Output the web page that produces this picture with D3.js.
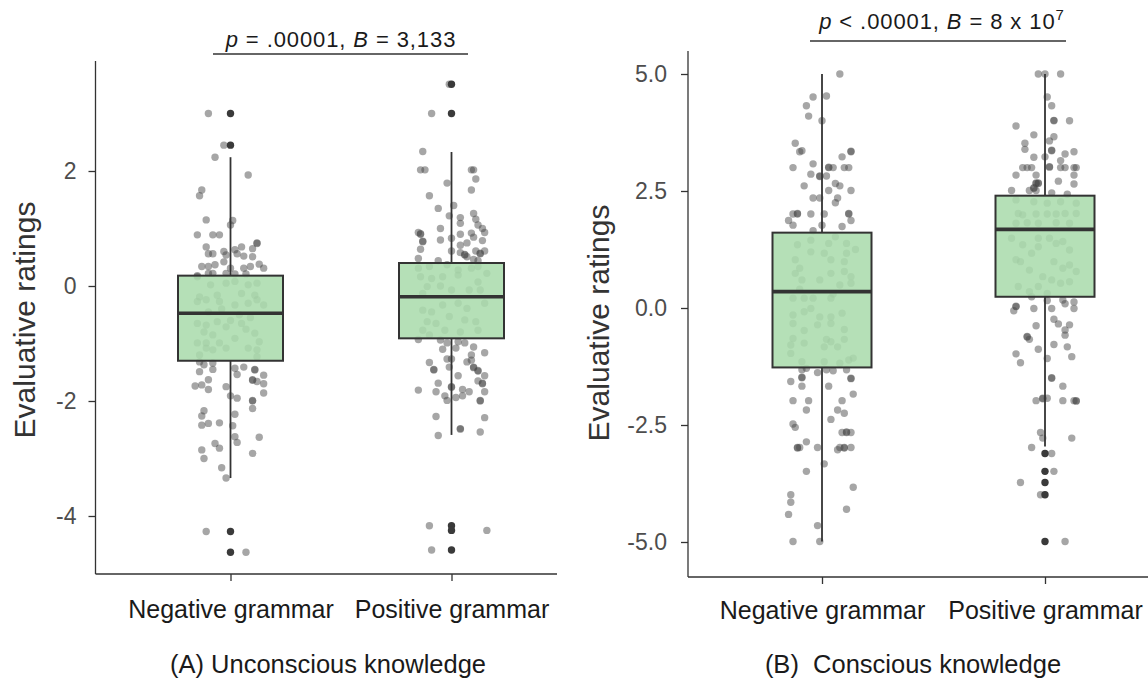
<!DOCTYPE html>
<html>
<head>
<meta charset="utf-8">
<script src="https://cdn.jsdelivr.net/npm/d3@7"></script>
<style>
  body { margin: 0; background: #fff; }
  svg { display: block; }
  text { font-family: Arial, "Liberation Sans", sans-serif; }
</style>
</head>
<body>
<div id="chart"></div>
<script>
// ---- data ----
const categories = ["Negative grammar", "Positive grammar"];
const captions = ["(A) Unconscious knowledge", "(B)  Conscious knowledge"];
const yTicksA = [-4, -2, 0, 2];
const yTicksB = [-5, -2.5, 0, 2.5, 5];

// box stats: whisker low, q1, median, q3, whisker high
const boxesA = [
  { lo: -3.34, q1: -1.30, med: -0.475, q3: 0.18, hi: 2.24 },
  { lo: -2.59, q1: -0.91, med: -0.186, q3: 0.40, hi: 2.33 }
];
const boxesB = [
  { lo: -4.99, q1: -1.27, med: 0.35, q3: 1.61, hi: 5.0 },
  { lo: -2.96, q1: 0.24, med: 1.68, q3: 2.40, hi: 5.0 }
];
const outliersA = [[3.0, 2.45, -4.27, -4.63], [3.51, 3.0, -4.17, -4.25, -4.59]];
const outliersB = [[], [-3.11, -3.49, -3.73, -3.99, -4.99]];

// jittered ratings: [jitter (category units), rating]
const ratingsANeg = [
  [-0.10, 3.0], [-0.03, 2.45], [-0.07, 2.24], [0.08, 1.93], [-0.13, 1.67], [-0.14, 1.57],
  [-0.11, 1.15], [0.01, 1.14], [0.00, 1.06], [-0.15, 0.89], [-0.08, 0.89], [-0.05, 0.89],
  [-0.11, 0.68], [0.05, 0.68], [0.10, 0.65], [0.12, 0.74], [0.12, 0.75], [-0.10, 0.56],
  [-0.08, 0.56], [-0.03, 0.60], [-0.02, 0.54], [0.02, 0.63], [0.03, 0.56], [0.06, 0.52],
  [0.10, 0.51], [-0.03, 0.42], [-0.13, 0.34], [-0.10, 0.34], [-0.07, 0.37], [0.00, 0.31],
  [0.06, 0.31], [0.09, 0.34], [0.13, 0.38], [0.15, 0.31], [-0.15, 0.18], [-0.10, 0.22],
  [-0.08, 0.22], [-0.02, 0.22], [0.02, 0.21], [0.07, 0.21],
  [-0.15, 0.16], [-0.09, 0.02], [-0.02, 0.05], [0.02, 0.08], [0.08, 0.02], [0.12, 0.05],
  [-0.06, -0.16], [-0.14, -0.19], [0.05, -0.13], [0.11, -0.16], [-0.15, -0.27], [-0.11, -0.24],
  [-0.05, -0.27], [0.02, -0.33], [0.08, -0.30], [0.12, -0.24], [0.15, -0.33], [-0.15, -0.65],
  [-0.11, -0.68], [-0.06, -0.62], [-0.02, -0.71], [0.02, -0.91], [0.05, -0.65], [0.11, -0.82],
  [0.13, -0.97], [-0.15, -0.99], [-0.11, -0.99], [-0.05, -0.99], [-0.02, -1.08], [-0.11, -1.08],
  [-0.08, -1.11], [0.08, -1.08], [0.12, -1.11], [-0.14, -1.20], [0.12, -1.23], [-0.10, -0.45],
  [0.04, -0.50], [0.09, -0.55], [-0.04, -0.40], [-0.12, -0.80], [0.00, -0.60], [0.07, -0.75],
  [-0.08, -0.85],
  [-0.14, -1.32], [-0.12, -1.37], [-0.08, -1.34], [-0.08, -1.45], [0.02, -1.43], [0.06, -1.41],
  [0.11, -1.45], [0.11, -1.46], [-0.14, -1.49], [0.03, -1.54], [0.15, -1.55], [-0.10, -1.63],
  [0.10, -1.63], [0.10, -1.64], [0.12, -1.66], [-0.16, -1.74], [-0.13, -1.72], [-0.10, -1.80],
  [-0.02, -1.75], [0.15, -1.70], [0.15, -1.86], [0.00, -1.91], [0.03, -1.95], [0.10, -1.99],
  [0.10, -2.00], [0.10, -2.13], [-0.12, -2.17], [-0.13, -2.26], [0.02, -2.23], [-0.13, -2.42],
  [-0.10, -2.39], [-0.05, -2.38], [0.01, -2.43], [0.02, -2.62], [0.03, -2.72], [0.13, -2.63],
  [-0.07, -2.74], [-0.05, -2.82], [-0.13, -2.85], [-0.12, -3.0], [0.10, -2.91], [-0.04, -3.16],
  [-0.02, -3.34], [-0.11, -4.27], [0.07, -4.63]
];
const ratingsAPos = [
  [-0.01, 3.51], [-0.09, 3.0], [-0.13, 2.34], [-0.14, 2.02], [-0.12, 2.02], [0.09, 2.02],
  [0.10, 2.02], [0.11, 1.86], [0.09, 1.67], [-0.02, 1.79], [-0.10, 1.57], [-0.06, 1.35],
  [0.01, 1.40], [-0.01, 1.22], [0.04, 1.19], [0.04, 1.09], [0.10, 1.26], [0.11, 1.16],
  [0.12, 1.06], [0.14, 1.00], [0.15, 0.93], [-0.05, 1.00], [-0.15, 0.93], [-0.14, 0.90],
  [-0.14, 0.91], [-0.13, 0.77], [-0.13, 0.78], [-0.05, 0.80], [0.00, 0.83], [0.04, 0.90],
  [0.09, 0.92], [0.10, 0.85], [0.07, 0.75], [0.14, 0.79], [0.04, 0.71], [-0.14, 0.64],
  [0.00, 0.61], [0.04, 0.58], [0.06, 0.54], [0.06, 0.55], [0.07, 0.51], [0.11, 0.61],
  [0.13, 0.56], [0.13, 0.57], [0.15, 0.61], [-0.15, 0.48], [-0.06, 0.44], [0.10, 0.46],
  [0.12, 0.44],
  [-0.15, 0.31], [-0.10, 0.34], [-0.02, 0.37], [0.03, 0.28], [0.09, 0.31], [0.12, 0.34],
  [-0.14, 0.16], [-0.09, 0.13], [-0.04, 0.16], [0.03, 0.19], [0.12, 0.07], [0.16, 0.22],
  [-0.11, -0.01], [-0.05, 0.0], [0.00, -0.07], [0.08, -0.07], [0.13, -0.07], [-0.13, -0.13],
  [0.15, -0.30], [-0.13, -0.42], [-0.09, -0.45], [-0.04, -0.33], [0.03, -0.30], [0.07, -0.39],
  [-0.11, -0.62], [-0.07, -0.65], [-0.01, -0.53], [0.06, -0.59], [0.11, -0.62], [-0.13, -0.77],
  [-0.03, -0.77], [0.04, -0.80], [0.12, -0.77], [-0.10, -0.85],
  [-0.15, -0.93], [-0.05, -0.94], [-0.02, -0.99], [0.03, -0.97], [0.06, -0.99], [-0.04, -1.10],
  [0.02, -1.08], [0.10, -1.06], [0.15, -1.16], [0.09, -1.20], [-0.02, -1.27], [0.00, -1.27],
  [-0.10, -1.33], [0.07, -1.32], [0.09, -1.29], [-0.08, -1.45], [-0.08, -1.46], [-0.01, -1.41],
  [0.10, -1.41], [0.10, -1.42], [0.12, -1.47], [0.12, -1.48], [0.03, -1.56], [0.15, -1.56],
  [0.12, -1.65], [0.14, -1.69], [0.14, -1.70], [-0.06, -1.69], [-0.15, -1.81], [-0.07, -1.84],
  [0.00, -1.75], [0.00, -1.76], [0.05, -1.80], [0.08, -1.84], [0.15, -1.84], [-0.03, -1.91],
  [-0.02, -1.99], [0.02, -1.94], [0.05, -1.91], [0.13, -1.99], [0.13, -2.00], [-0.07, -2.27],
  [0.15, -2.29], [0.04, -2.48], [0.04, -2.49], [-0.06, -2.60], [0.13, -2.54], [-0.10, -4.17],
  [0.16, -4.25], [-0.09, -4.59]
];
const ratingsBNeg = [
  [0.08, 5.0], [-0.04, 4.51], [0.02, 4.53], [-0.07, 4.32], [-0.06, 4.10], [0.00, 4.0],
  [-0.12, 3.52], [-0.10, 3.34], [-0.09, 3.36], [0.13, 3.34], [0.13, 3.35], [0.09, 3.23],
  [-0.13, 3.0], [-0.04, 3.08], [0.03, 3.0], [0.03, 3.01], [0.05, 3.0], [0.10, 3.0],
  [0.12, 3.0], [-0.05, 2.86], [-0.01, 2.81], [-0.01, 2.82], [0.02, 2.82], [-0.08, 2.61],
  [0.06, 2.66], [0.08, 2.61], [0.03, 2.51], [0.13, 2.51], [-0.04, 2.35], [-0.01, 2.35],
  [0.07, 2.35], [0.06, 2.25], [-0.13, 2.01], [-0.11, 2.01], [-0.11, 2.02], [-0.05, 2.01],
  [0.01, 2.01], [0.12, 2.01], [0.12, 2.02], [-0.15, 1.87], [-0.13, 1.77], [0.00, 1.77],
  [0.13, 1.87], [0.09, 1.74], [-0.04, 1.65],
  [-0.11, 1.35], [-0.05, 1.45], [0.03, 1.38], [0.06, 1.52], [0.11, 1.38], [0.15, 1.25],
  [-0.05, 1.20], [0.01, 1.17], [-0.12, 1.03], [-0.10, 0.85], [0.04, 1.03], [0.10, 0.99],
  [0.11, 1.17], [-0.12, 0.74], [-0.09, 0.60], [-0.01, 0.60], [0.04, 0.74], [0.10, 0.78],
  [0.13, 0.67], [0.13, 0.53], [0.08, 0.49], [-0.10, 0.40], [0.05, 0.30], [-0.13, 0.21],
  [-0.08, 0.21], [-0.04, 0.21], [0.04, 0.21], [-0.13, -0.15], [-0.08, -0.08], [-0.05, -0.01],
  [-0.01, -0.19], [0.04, -0.19], [0.09, -0.11], [-0.13, -0.33], [-0.02, -0.36], [0.04, -0.33],
  [0.10, -0.46], [-0.08, -0.48], [-0.13, -0.65], [-0.14, -0.79], [-0.08, -0.75], [0.02, -0.67],
  [0.04, -0.72], [0.07, -0.83], [0.01, -0.83], [0.10, -0.67], [-0.14, -0.97], [-0.09, -1.15],
  [0.01, -1.15], [0.08, -1.18], [0.12, -1.11], [0.14, -1.07],
  [-0.09, -1.32], [-0.07, -1.29], [-0.02, -1.38], [0.02, -1.32], [0.05, -1.34], [0.11, -1.32],
  [-0.09, -1.48], [-0.09, -1.49], [0.13, -1.50], [0.13, -1.51], [-0.14, -1.57], [-0.09, -1.67],
  [0.03, -1.67], [0.14, -1.84], [-0.13, -1.98], [-0.06, -1.98], [0.09, -1.98], [-0.07, -2.18],
  [0.07, -2.18], [0.10, -2.25], [0.04, -2.38], [-0.13, -2.48], [-0.12, -2.55], [0.09, -2.66],
  [0.11, -2.65], [0.11, -2.66], [0.13, -2.66], [-0.07, -2.86], [-0.11, -2.98], [-0.11, -2.99],
  [-0.10, -2.98], [-0.02, -2.98], [0.07, -3.03], [0.08, -2.98], [0.10, -2.98], [0.10, -2.99],
  [0.13, -2.98], [0.01, -3.33], [-0.07, -3.49], [0.14, -3.83], [-0.14, -3.99], [-0.14, -4.15],
  [-0.15, -4.41], [0.11, -4.30], [-0.02, -4.65], [-0.13, -4.99], [-0.01, -4.99]
];
const ratingsBPos = [
  [-0.03, 5.0], [0.00, 5.0], [0.07, 5.0], [0.01, 4.51], [0.03, 4.32], [0.04, 4.0],
  [0.04, 4.01], [0.11, 4.0], [-0.13, 3.89], [-0.05, 3.70], [0.04, 3.66], [0.02, 3.57],
  [-0.09, 3.52], [-0.09, 3.39], [0.03, 3.36], [0.03, 3.37], [0.09, 3.29], [0.13, 3.34],
  [-0.05, 3.22], [0.00, 3.23], [0.07, 3.15], [-0.10, 3.0], [-0.08, 3.0], [-0.06, 3.0],
  [0.02, 3.01], [0.02, 3.02], [0.07, 3.0], [0.09, 3.0], [0.13, 3.0], [0.14, 3.0],
  [-0.13, 2.84], [-0.04, 2.84], [0.13, 2.84], [0.06, 2.71], [-0.04, 2.66], [-0.04, 2.67],
  [-0.03, 2.66], [-0.03, 2.67], [0.13, 2.65], [-0.15, 2.51], [-0.07, 2.51], [-0.05, 2.56],
  [-0.05, 2.57], [-0.04, 2.51], [0.03, 2.46], [0.10, 2.43],
  [-0.13, 2.31], [-0.05, 2.27], [0.01, 2.24], [0.07, 2.27], [0.14, 2.24], [-0.12, 2.02],
  [-0.10, 1.99], [-0.04, 2.01], [0.01, 2.01], [0.05, 2.01], [0.09, 2.02], [0.14, 2.02],
  [-0.13, 1.81], [-0.08, 1.82], [-0.03, 1.81], [0.05, 1.82], [0.11, 1.81], [-0.15, 1.49],
  [-0.03, 1.49], [0.02, 1.49], [0.08, 1.42], [-0.10, 1.35], [-0.03, 1.31], [0.05, 1.38],
  [0.11, 1.24], [-0.13, 1.03], [-0.11, 0.99], [-0.06, 1.17], [0.04, 0.99], [-0.07, 0.81],
  [0.08, 0.85], [0.11, 0.92], [0.14, 0.78], [-0.01, 0.67], [0.03, 0.60], [0.07, 0.53],
  [-0.12, 0.46], [-0.03, 0.46], [0.11, 0.56], [-0.07, 0.35], [0.01, 0.31],
  [-0.06, 0.24], [0.01, 0.16], [0.08, 0.17], [0.09, 0.09], [0.13, 0.13], [-0.13, 0.03],
  [-0.13, 0.04], [-0.14, -0.06], [-0.05, -0.01], [0.03, -0.01], [0.13, -0.01], [0.04, -0.24],
  [0.06, -0.34], [0.11, -0.36], [-0.04, -0.38], [0.09, -0.47], [0.09, -0.58], [-0.08, -0.61],
  [-0.08, -0.62], [-0.07, -0.67], [0.04, -0.78], [0.10, -0.83], [-0.03, -0.88], [-0.13, -0.98],
  [0.01, -1.08], [0.12, -1.04], [-0.11, -1.17], [0.03, -1.49], [0.03, -1.50], [0.08, -1.67],
  [-0.04, -1.98], [-0.01, -1.93], [-0.01, -1.94], [0.01, -1.93], [0.08, -1.98], [0.13, -1.98],
  [0.14, -1.98], [0.14, -1.99], [-0.02, -2.66], [-0.01, -2.78], [0.12, -2.78], [-0.06, -2.98],
  [0.03, -3.11], [0.04, -3.49], [-0.11, -3.73], [-0.02, -3.99], [0.09, -4.99]
];

const statA = ["p", " = .00001, ", "B", " = 3,133"];
const statB = ["p", " < .00001, ", "B", " = 8 x 10"];
const statBExp = "7";

// ---- layout ----
const W = 1148, H = 682;
const svg = d3.select("#chart").append("svg")
  .attr("width", W)
  .attr("height", H);

// plain hyphen for negatives, like the original
const hyphen = f => d => f(d).replace("\u2212", "-");

const panels = [
  {
    axisX: 95.5, axisRight: 557, axisTop: 61, axisY: 574,
    yDomain: [-4, 2], yRange: [516, 171], ticks: yTicksA, fmt: hyphen(d3.format("d")), yPad: 12,
    catRange: [230.5, 451.5], boxW: 105, catPad: 19,
    groups: [ratingsANeg, ratingsAPos], boxes: boxesA, outliers: outliersA,
    titleX: 35, titleY: 320, caption: captions[0], capX: 328,
    stat: statA, statExp: null, statX: 341, statY: 47, barX: [213, 468], barY: 54
  },
  {
    axisX: 688, axisRight: 1148, axisTop: 51, axisY: 577,
    yDomain: [-5, 5], yRange: [542, 74], ticks: yTicksB, fmt: hyphen(d3.format(".1f")), yPad: 14,
    catRange: [822, 1045], boxW: 99, catPad: 17,
    groups: [ratingsBNeg, ratingsBPos], boxes: boxesB, outliers: outliersB,
    titleX: 609, titleY: 323, caption: captions[1], capX: 913,
    stat: statB, statExp: statBExp, statX: 942, statY: 29, barX: [810, 1066], barY: 41
  }
];

panels.forEach(p => {
  const g = svg.append("g");
  const y = d3.scaleLinear().domain(p.yDomain).range(p.yRange);
  const x = d3.scalePoint().domain(categories).range(p.catRange);
  const step = x.step();

  // jittered points
  p.groups.forEach((pts, i) => {
    g.append("g").selectAll("circle")
      .data(pts)
      .join("circle")
      .attr("cx", d => x(categories[i]) + d[0] * step)
      .attr("cy", d => y(d[1]))
      .attr("r", 3.7)
      .attr("fill", "#444")
      .attr("fill-opacity", 0.48);
  });

  // boxplots
  p.boxes.forEach((b, i) => {
    const cx = x(categories[i]);
    const bg = g.append("g");
    bg.append("line")
      .attr("x1", cx).attr("x2", cx)
      .attr("y1", y(b.hi)).attr("y2", y(b.q3))
      .attr("stroke", "#333").attr("stroke-width", 1.8);
    bg.append("line")
      .attr("x1", cx).attr("x2", cx)
      .attr("y1", y(b.q1)).attr("y2", y(b.lo))
      .attr("stroke", "#333").attr("stroke-width", 1.8);
    bg.append("rect")
      .attr("x", cx - p.boxW / 2)
      .attr("y", y(b.q3))
      .attr("width", p.boxW)
      .attr("height", y(b.q1) - y(b.q3))
      .attr("fill", "rgb(171,220,173)")
      .attr("fill-opacity", 0.88)
      .attr("stroke", "#333")
      .attr("stroke-width", 2);
    bg.append("line")
      .attr("x1", cx - p.boxW / 2).attr("x2", cx + p.boxW / 2)
      .attr("y1", y(b.med)).attr("y2", y(b.med))
      .attr("stroke", "#333").attr("stroke-width", 3.6);
    bg.selectAll("circle.out")
      .data(p.outliers[i])
      .join("circle")
      .attr("class", "out")
      .attr("cx", cx)
      .attr("cy", d => y(d))
      .attr("r", 3.7)
      .attr("fill", "#3a3a3a");
  });

  // axes
  const yAxis = g.append("g")
    .attr("transform", `translate(${p.axisX},0)`)
    .call(d3.axisLeft(y).tickValues(p.ticks).tickFormat(p.fmt).tickSize(7).tickPadding(p.yPad));
  yAxis.select(".domain").remove();
  yAxis.selectAll(".tick line").attr("stroke", "#333").attr("stroke-width", 1.3);
  yAxis.selectAll(".tick text")
    .attr("fill", "#4d4d4d")
    .style("font-size", "23px")
    .style("font-family", "Arial, 'Liberation Sans', sans-serif");

  const xAxis = g.append("g")
    .attr("transform", `translate(0,${p.axisY})`)
    .call(d3.axisBottom(x).tickSize(7).tickPadding(p.catPad));
  xAxis.select(".domain").remove();
  xAxis.selectAll(".tick line").attr("stroke", "#333").attr("stroke-width", 1.3);
  xAxis.selectAll(".tick text")
    .attr("fill", "#1a1a1a")
    .style("font-size", "25px")
    .style("font-family", "Arial, 'Liberation Sans', sans-serif");

  g.append("line")
    .attr("x1", p.axisX).attr("x2", p.axisX)
    .attr("y1", p.axisTop).attr("y2", p.axisY)
    .attr("stroke", "#333").attr("stroke-width", 1.3);
  g.append("line")
    .attr("x1", p.axisX).attr("x2", p.axisRight)
    .attr("y1", p.axisY).attr("y2", p.axisY)
    .attr("stroke", "#333").attr("stroke-width", 1.3);

  // y title
  g.append("text")
    .attr("transform", `translate(${p.titleX},${p.titleY}) rotate(-90)`)
    .attr("text-anchor", "middle")
    .attr("fill", "#333")
    .style("font-size", "30px")
    .text("Evaluative ratings");

  // caption
  g.append("text")
    .attr("x", p.capX)
    .attr("y", 673)
    .attr("text-anchor", "middle")
    .attr("fill", "#1a1a1a")
    .style("font-size", "25.5px")
    .style("white-space", "pre")
    .text(p.caption);

  // significance bar
  g.append("line")
    .attr("x1", p.barX[0]).attr("x2", p.barX[1])
    .attr("y1", p.barY).attr("y2", p.barY)
    .attr("stroke", "#333").attr("stroke-width", 1.3);
  const st = g.append("text")
    .attr("x", p.statX)
    .attr("y", p.statY)
    .attr("text-anchor", "middle")
    .attr("fill", "#1a1a1a")
    .style("font-size", "22px")
    .style("letter-spacing", "0.9px")
    .style("white-space", "pre");
  p.stat.forEach((s, k) => {
    st.append("tspan")
      .style("font-style", k % 2 === 0 ? "italic" : "normal")
      .text(s);
  });
  if (p.statExp) {
    st.append("tspan")
      .attr("dy", -9)
      .style("font-size", "15px")
      .text(p.statExp);
  }
});
</script>
</body>
</html>
